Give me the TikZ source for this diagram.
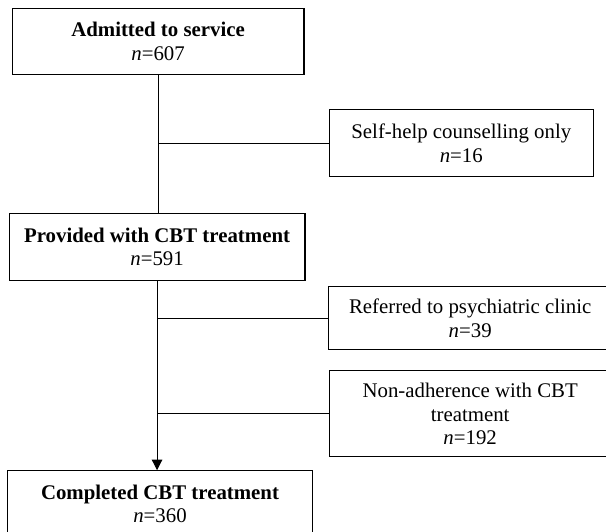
\documentclass[tikz,border=0pt]{standalone}
\usepackage{fontspec}
\setmainfont{Liberation Serif}
\usepackage{tikz}
\usetikzlibrary{arrows.meta}

\begin{document}
\begin{tikzpicture}[
    box/.style={draw, line width=0.6pt, align=center, inner sep=0pt,
        font=\fontsize{12}{13.5}\selectfont},
    link/.style={line width=0.6pt}
  ]
    \useasboundingbox (0,0) rectangle (12.27,10.77);

    % Main stream
    \node[box, minimum width=5.91cm, minimum height=1.32cm] (admitted) at (3.20,9.93)
        {\textbf{Admitted to service}\\\textit{n}=607};
    \node[box, minimum width=5.99cm, minimum height=1.34cm] (provided) at (3.18,5.77)
        {\textbf{Provided with CBT treatment}\\\textit{n}=591};
    \node[box, minimum width=6.16cm, minimum height=1.34cm] (completed) at (3.24,0.57)
        {\textbf{Completed CBT treatment}\\\textit{n}=360};

    % Exclusions
    \node[box, minimum width=5.35cm, minimum height=1.36cm] (selfhelp) at (9.34,7.87)
        {Self-help counselling only\\\textit{n}=16};
    \node[box, minimum width=5.75cm, minimum height=1.26cm] (referred) at (9.52,4.33)
        {Referred to psychiatric clinic\\\textit{n}=39};
    \node[box, minimum width=5.71cm, minimum height=1.74cm] (nonadh) at (9.52,2.39)
        {Non-adherence with CBT\\treatment\\\textit{n}=192};

    % Vertical flow
    \draw[link] (admitted.south) -- (admitted.south |- provided.north);
    \draw[link, -{Triangle[width=6pt,length=6pt]}] (provided.south) -- (provided.south |- completed.north);

    % Branches to the right
    \draw[link] (selfhelp.west -| admitted.south) -- (selfhelp.west);
    \draw[link] (referred.west -| provided.south) -- (referred.west);
    \draw[link] (nonadh.west -| provided.south) -- (nonadh.west);
\end{tikzpicture}
\end{document}
